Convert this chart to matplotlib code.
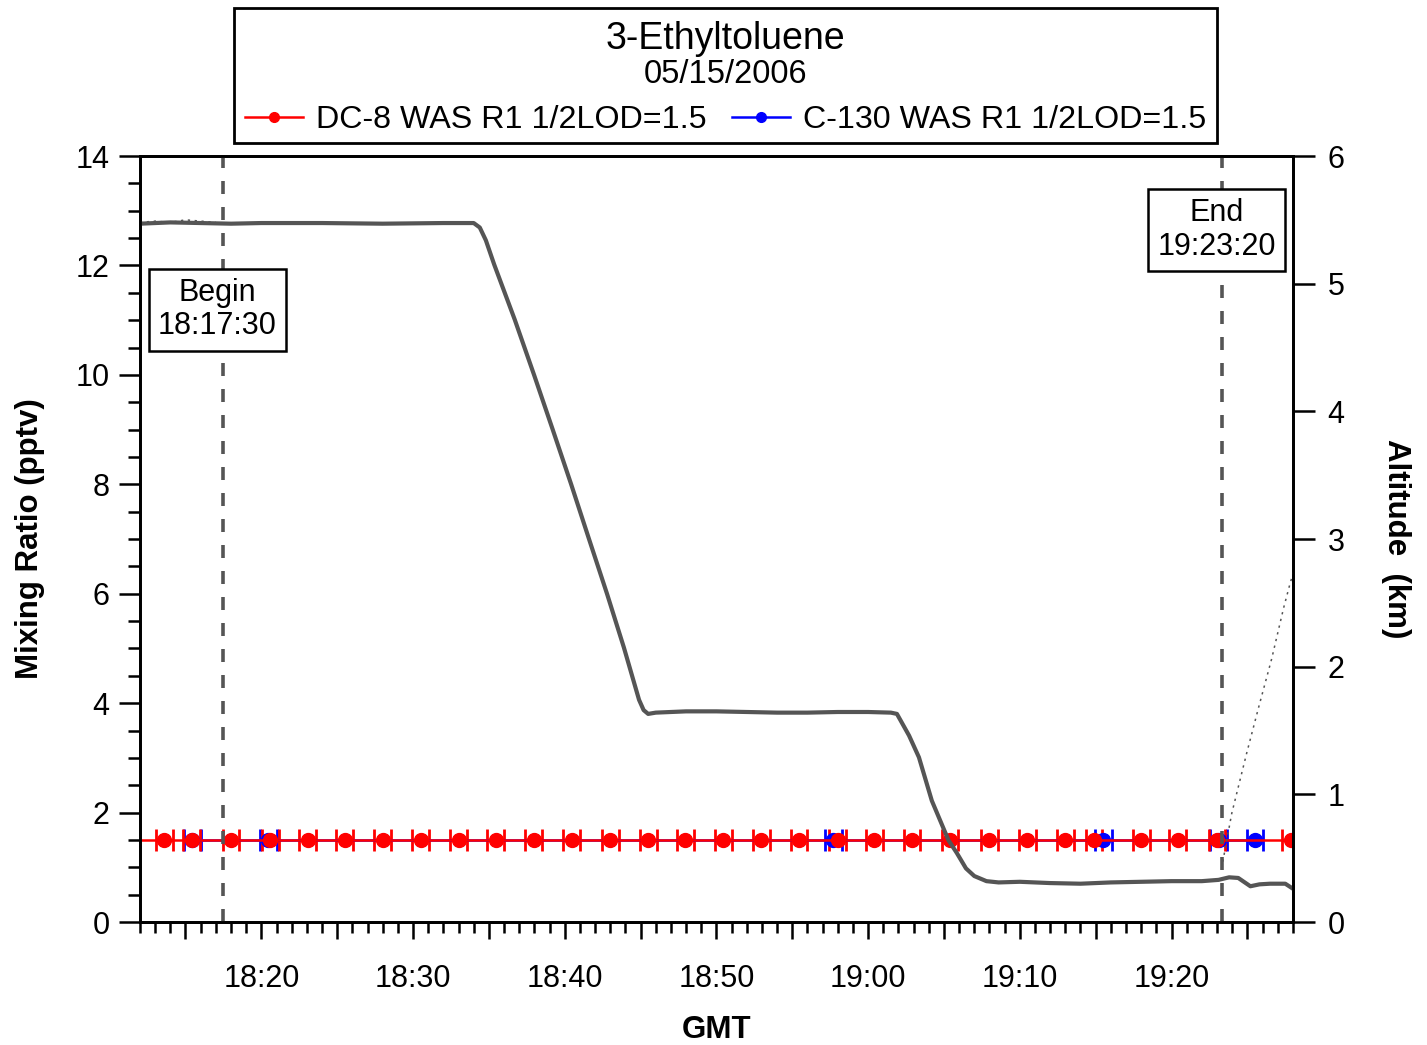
import numpy as np
import matplotlib
matplotlib.use("Agg")
from matplotlib import pyplot as plt
from matplotlib.lines import Line2D
from matplotlib.patches import Rectangle
from matplotlib.ticker import MultipleLocator, FuncFormatter

plt.rcParams['font.family'] = ['Liberation Sans', 'DejaVu Sans']

# Tid i minutt etter 18:00 GMT
# DC-8 WAS-prøver (1/2 LOD = 1.5 pptv)
dc8_t = [11.1, 13.6, 15.4, 18.0, 20.6, 23.05, 25.5, 28.0, 30.5, 33.0, 35.45,
         37.95, 40.45, 43.0, 45.5, 47.95, 50.45, 52.95, 55.45, 58.0, 60.4,
         62.9, 65.4, 68.0, 70.5, 73.0, 74.9, 78.0, 80.4, 83.0, 87.85]
dc8_val = [1.5] * len(dc8_t)
dc8_half = 0.55

# C-130 WAS-prøver
c130_t = [15.45, 20.45, 57.7, 75.5, 83.1, 85.5]
c130_val = [1.5] * len(c130_t)
c130_half = 0.55

# Høgd (km) DC-8
alt_t = [12.0, 14.0, 16.0, 18.0, 20.0, 24.0, 28.0, 32.0, 34.0, 34.4, 34.8,
         35.35, 36.7, 37.98, 39.2, 40.42, 41.6, 42.79, 43.9, 44.9, 45.2, 45.5,
         46.0, 48.0, 50.0, 52.0, 54.0, 56.0, 58.0, 60.0, 61.5, 61.9, 62.7,
         63.35, 64.2, 65.3, 65.85, 66.45, 67.0, 67.8, 68.6, 70.0, 72.0, 74.0,
         76.0, 78.0, 80.0, 82.0, 83.1, 83.8, 84.4, 85.2, 85.8, 86.5, 87.5,
         87.95]
alt_km = [5.47, 5.48, 5.475, 5.47, 5.475, 5.475, 5.47, 5.475, 5.475, 5.44,
          5.34, 5.15, 4.72, 4.285, 3.86, 3.43, 3.0, 2.57, 2.15, 1.74, 1.66,
          1.63, 1.64, 1.65, 1.65, 1.645, 1.64, 1.64, 1.645, 1.645, 1.64, 1.63,
          1.46, 1.29, 0.95, 0.64, 0.54, 0.42, 0.36, 0.32, 0.31, 0.315, 0.305,
          0.30, 0.31, 0.315, 0.32, 0.32, 0.33, 0.35, 0.345, 0.28, 0.295, 0.30,
          0.30, 0.265]

# Høgd (km) C-130 (prikka)
alt2_t = [12.0, 13.0, 14.0, 15.0, 16.0, 17.0, np.nan, 83.3, 83.97, 84.95,
          85.74, 86.6, 87.39, 87.79, 88.3]
alt2_km = [5.48, 5.49, 5.48, 5.50, 5.49, 5.48, np.nan, 0.42, 0.85, 1.32,
           1.68, 2.06, 2.46, 2.64, 2.85]

begin_t = 17.5       # 18:17:30
end_t = 83 + 1 / 3   # 19:23:20

fig = plt.figure(figsize=(14.27, 10.45), dpi=100)
ax = fig.add_axes([0.0981, 0.1177, 0.8079, 0.7330])
ax2 = ax.twinx()

# Prøvepunkta
ax.errorbar(c130_t, c130_val, xerr=c130_half, fmt='o-', color='blue', ms=10,
            lw=1.8, elinewidth=2, capsize=8, capthick=2)
ax.errorbar(dc8_t, dc8_val, xerr=dc8_half, fmt='o-', color='red', ms=10,
            lw=1.8, elinewidth=2, capsize=8, capthick=2)

# Høgda
ax2.plot(alt_t, alt_km, color='#555555', lw=3)
ax2.plot(alt2_t, alt2_km, color='#555555', lw=1.1, ls=(0, (1.5, 3)))

# Start/slutt
for t in (begin_t, end_t):
    ax2.axvline(t, color='#555555', lw=2.6, ls=(0, (3.6, 3.6)))

ax.set_xlim(12, 88)
ax.set_ylim(0, 14)
ax2.set_ylim(0, 6)

def klokke(v, pos):
    m = int(round(v))
    if m % 10 != 0:
        return ''
    return f'{18 + m // 60}:{m % 60:02d}'

ax.xaxis.set_major_locator(MultipleLocator(5))
ax.xaxis.set_minor_locator(MultipleLocator(1))
ax.xaxis.set_major_formatter(FuncFormatter(klokke))
ax.yaxis.set_major_locator(MultipleLocator(2))
ax.yaxis.set_minor_locator(MultipleLocator(0.5))
ax2.yaxis.set_major_locator(MultipleLocator(1))

ax.tick_params(axis='x', which='major', length=12, width=1.8, pad=18, labelsize=22)
ax.tick_params(axis='x', which='minor', length=8, width=1.8)
ax.tick_params(axis='y', which='major', length=15, width=1.8, pad=7, labelsize=22)
ax.tick_params(axis='y', which='minor', length=9, width=1.8)
ax2.tick_params(axis='y', which='major', length=16, width=1.8, pad=9, labelsize=22)

for a in (ax, ax2):
    for s in a.spines.values():
        s.set_linewidth(2)

ax.set_xlabel('GMT', fontsize=22.5, fontweight='bold', labelpad=15)
ax.set_ylabel('Mixing Ratio (pptv)', fontsize=22.5, fontweight='bold', labelpad=22)
ax2.set_ylabel('Altitude  (km)', fontsize=22.5, fontweight='bold', rotation=-90,
               labelpad=48)

boks = dict(boxstyle='square,pad=0.3', fc='white', ec='black', lw=1.8)
ax2.text(17.1, 11.19, 'Begin\n18:17:30', transform=ax.transData, fontsize=22,
         ha='center', va='center', multialignment='center', linespacing=1.15,
         bbox=boks, zorder=5)
ax2.text(82.98, 12.65, 'End\n19:23:20', transform=ax.transData, fontsize=22,
         ha='center', va='center', multialignment='center', linespacing=1.15,
         bbox=boks, zorder=5)

# Tittel og forklaring
fig.patches.append(Rectangle((234 / 1427, 1 - 143 / 1045), 983 / 1427, 135 / 1045,
                             transform=fig.transFigure, fill=False, ec='black', lw=2))
fig.text(0.5084, 1 - 39 / 1045, '3-Ethyltoluene', fontsize=27, ha='center', va='center')
fig.text(0.5084, 1 - 74 / 1045, '05/15/2006', fontsize=23.5, ha='center', va='center')
handles = [Line2D([], [], color='red', marker='o', ms=7, lw=1.8),
           Line2D([], [], color='blue', marker='o', ms=7, lw=1.8)]
fig.legend(handles, ['DC-8 WAS R1 1/2LOD=1.5', 'C-130 WAS R1 1/2LOD=1.5'],
           loc='center', bbox_to_anchor=(0.5084, 1 - 120 / 1045), ncol=2,
           frameon=False, fontsize=23.2, handlelength=1.8, handletextpad=0.4,
           columnspacing=0.8, borderpad=0, borderaxespad=0)

fig.savefig('out.png', dpi=100)
